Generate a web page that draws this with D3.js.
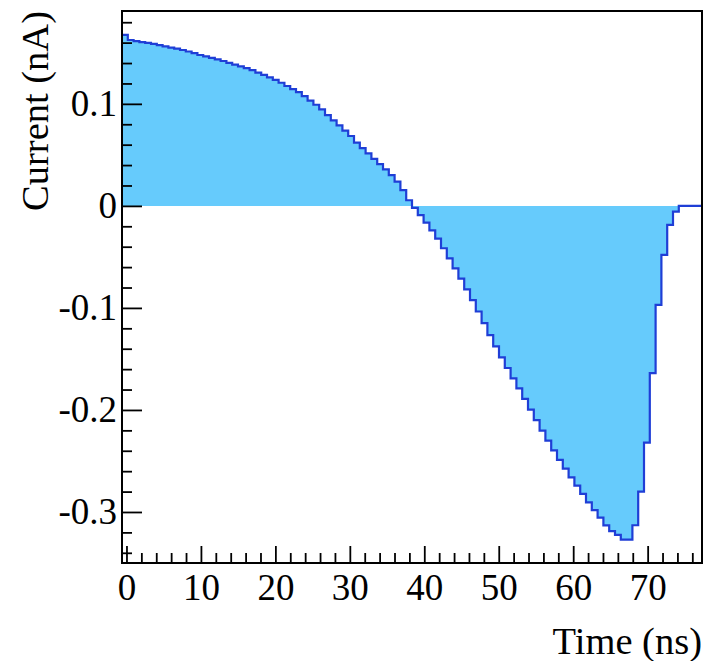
<!DOCTYPE html>
<html>
<head>
<meta charset="utf-8">
<script src="https://cdn.jsdelivr.net/npm/d3@7"></script>
<style>
  html, body { margin: 0; padding: 0; background: #fff; }
  svg { display: block; }
</style>
</head>
<body>
<script>
// Histogram binning along the time axis (ns): equal-width bins spanning this range
const timeRange = [-0.6, 77.3];

// Induced current per bin (nA)
const current = [
  0.1676, 0.1626, 0.1615, 0.1605, 0.1597, 0.1587, 0.1576, 0.1564, 0.1552, 0.1541,
  0.1528, 0.1513, 0.1497, 0.1479, 0.1465, 0.1450, 0.1436, 0.1420, 0.1402, 0.1385,
  0.1367, 0.1350, 0.1330, 0.1307, 0.1284, 0.1260, 0.1234, 0.1207, 0.1175, 0.1144,
  0.1115, 0.1075, 0.1032, 0.0991, 0.0945, 0.0890, 0.0838, 0.0789, 0.0737, 0.0685,
  0.0620, 0.0566, 0.0514, 0.0461, 0.0409, 0.0357, 0.0301, 0.0237, 0.0154, 0.0055,
  -0.0020, -0.0090, -0.0165, -0.0240, -0.0320, -0.0415, -0.0515, -0.0613, -0.0713, -0.0818,
  -0.0924, -0.1035, -0.1150, -0.1266, -0.1376, -0.1485, -0.1589, -0.1690, -0.1789, -0.1892,
  -0.1996, -0.2100, -0.2203, -0.2301, -0.2396, -0.2489, -0.2575, -0.2661, -0.2742, -0.2823,
  -0.2905, -0.2981, -0.3056, -0.3132, -0.3188, -0.3225, -0.3270, -0.3270, -0.3130, -0.2800,
  -0.2320, -0.1640, -0.0970, -0.0480, -0.0186, -0.0056, 0, 0, 0, 0
];

// Vertical range shown (nA)
const currentRange = [-0.35, 0.191];

// Axis ticks
const xMajorTicks = [0, 10, 20, 30, 40, 50, 60, 70];
const xMinorTicks = [2, 4, 6, 8, 12, 14, 16, 18, 22, 24, 26, 28, 32, 34, 36, 38,
                     42, 44, 46, 48, 52, 54, 56, 58, 62, 64, 66, 68, 72, 74, 76];
const yMajorTicks = [-0.3, -0.2, -0.1, 0, 0.1];
const yTickLabels = ["-0.3", "-0.2", "-0.1", "0", "0.1"];
const yMinorTicks = [-0.34, -0.32, -0.28, -0.26, -0.24, -0.22, -0.18, -0.16, -0.14, -0.12,
                     -0.08, -0.06, -0.04, -0.02, 0.02, 0.04, 0.06, 0.08, 0.12, 0.14, 0.16, 0.18];

const xTitle = "Time (ns)";
const yTitle = "Current (nA)";

const W = 705, H = 661;
const frame = { left: 122, right: 702, top: 11, bottom: 563 };
const serif = "'Liberation Serif', 'Times New Roman', Times, serif";
const fillColor = "#66cbfc";
const lineColor = "#1f3ed6";

const svg = d3.select("body").append("svg")
  .attr("width", W).attr("height", H);

const x = d3.scaleLinear().domain(timeRange).range([frame.left, frame.right]);
const y = d3.scaleLinear().domain(currentRange).range([frame.bottom, frame.top]);

// Step outline: each bin contributes its left and right edge at its value
const binWidth = (timeRange[1] - timeRange[0]) / current.length;
const steps = [];
current.forEach((v, i) => {
  const lo = timeRange[0] + i * binWidth;
  steps.push([lo, v], [lo + binWidth, v]);
});

svg.append("path")
  .attr("d", d3.area().x(d => x(d[0])).y0(y(0)).y1(d => y(d[1]))(steps))
  .attr("fill", fillColor)
  .attr("stroke", "none");

// Axes: ticks point into the frame
const xAxisMajor = d3.axisBottom(x).tickValues(xMajorTicks)
  .tickSizeInner(-17).tickSizeOuter(0).tickPadding(11)
  .tickFormat(d3.format("d"));
const xAxisMinor = d3.axisBottom(x).tickValues(xMinorTicks)
  .tickSizeInner(-10).tickSizeOuter(0).tickFormat("");
const yAxisMajor = d3.axisLeft(y).tickValues(yMajorTicks)
  .tickSizeInner(-20).tickSizeOuter(0).tickPadding(5)
  .tickFormat((d, i) => yTickLabels[i]);
const yAxisMinor = d3.axisLeft(y).tickValues(yMinorTicks)
  .tickSizeInner(-10).tickSizeOuter(0).tickFormat("");

function styleAxis(g) {
  g.select(".domain").remove();
  g.selectAll(".tick line").attr("stroke", "#000").attr("stroke-width", 1.8);
  g.selectAll(".tick text")
    .attr("font-family", serif).attr("font-size", 37).attr("fill", "#000");
}

svg.append("g").attr("transform", `translate(0,${frame.bottom})`).call(xAxisMinor).call(styleAxis);
svg.append("g").attr("transform", `translate(0,${frame.bottom})`).call(xAxisMajor).call(styleAxis);
svg.append("g").attr("transform", `translate(${frame.left},0)`).call(yAxisMinor).call(styleAxis);
svg.append("g").attr("transform", `translate(${frame.left},0)`).call(yAxisMajor).call(styleAxis);

// Histogram outline
svg.append("path")
  .attr("d", d3.line().x(d => x(d[0])).y(d => y(d[1]))(steps))
  .attr("fill", "none")
  .attr("stroke", lineColor)
  .attr("stroke-width", 2.2)
  .attr("stroke-linejoin", "miter");

// Frame
svg.append("rect")
  .attr("x", frame.left).attr("y", frame.top)
  .attr("width", frame.right - frame.left).attr("height", frame.bottom - frame.top)
  .attr("fill", "none").attr("stroke", "#000").attr("stroke-width", 2);

// Axis titles
svg.append("text")
  .attr("x", frame.right).attr("y", 654)
  .attr("text-anchor", "end")
  .attr("font-family", serif).attr("font-size", 38.5).attr("fill", "#000")
  .text(xTitle);

svg.append("text")
  .attr("transform", `translate(48,${frame.top}) rotate(-90)`)
  .attr("text-anchor", "end")
  .attr("font-family", serif).attr("font-size", 38.5).attr("fill", "#000")
  .text(yTitle);
</script>
</body>
</html>
